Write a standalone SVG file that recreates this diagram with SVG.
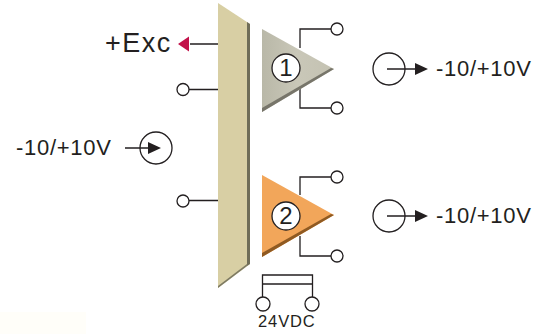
<svg xmlns="http://www.w3.org/2000/svg" width="547" height="334" viewBox="0 0 547 334">
<defs>
<style>
text{font-family:"Liberation Sans",Arial,sans-serif;fill:#231f20}
.w{fill:none;stroke:#231f20;stroke-width:1.3}
.t{fill:#fff;stroke:#231f20;stroke-width:1.3}
.l{font-size:22px;letter-spacing:0.7px}
.n{font-size:24px;text-anchor:middle}
.a{fill:#231f20}
</style>
<linearGradient id="g1" x1="0" y1="0" x2="1" y2="0"><stop offset="0" stop-color="#b9b8a8"/><stop offset="0.5" stop-color="#c9c7b8"/><stop offset="1" stop-color="#c4c2b2"/></linearGradient>
</defs>
<rect width="547" height="334" fill="#fff"/>
<rect x="0" y="312" width="86" height="22" fill="#fffef9"/>
<g id="connectors">
<path class="w" d="M190 44H218M189 89.500H218M189 200.500H218"/>
<path class="w" d="M300 48V29H331M300 88V108H331M300 195V177H331M300 236V256H331"/>
<path class="w" d="M262.500 298V275H312.500V298M262.500 284H312.500"/>
<path class="w" d="M125 148H150M387 69H417M387 216H417"/>
<path fill="#c2124a" d="M178 44L189 36.500V51.500Z"/>
<path class="a" d="M161 148L148 142V154ZM428 69L415 63V75ZM428 216L415 210V222Z"/>
</g>
<g id="bar">
<path fill="#d8cfa4" d="M218 3L250 24V264L218 288Z"/>
<path fill="#6f6d58" d="M247 22L250 24V264L247 266Z"/>
<path fill="#7d7a63" d="M218 286L247 264V266L218 288Z"/>
</g>
<g id="amp1">
<path fill="url(#g1)" d="M262 29L334 69L262 112Z"/>
<path fill="#77756a" d="M262 108L331 68L334 69L262 112Z"/>
<circle class="t" cx="286" cy="68" r="14"/>
<text class="n" x="286" y="76">1</text>
</g>
<g id="amp2">
<path fill="#f2a65a" d="M262 175L334 215L262 257Z"/>
<path fill="#8f5a22" d="M262 253L331 214L334 215L262 257Z"/>
<circle class="t" cx="286" cy="216" r="14"/>
<text class="n" x="286" y="224">2</text>
</g>
<g id="terminal-exc">
<text x="105" y="52" font-size="27" letter-spacing="1.500">+Exc</text>
</g>
<g id="terminal-left"><circle class="t" cx="183" cy="89.500" r="6"/></g>
<g id="terminal-left2"><circle class="t" cx="183" cy="201" r="6"/></g>
<g id="terminal-t1"><circle class="t" cx="337" cy="29" r="6"/></g>
<g id="terminal-t2"><circle class="t" cx="337" cy="108" r="6"/></g>
<g id="terminal-t3"><circle class="t" cx="337" cy="177" r="6"/></g>
<g id="terminal-t4"><circle class="t" cx="337" cy="256" r="6"/></g>
<g id="input"><circle class="w" cx="156" cy="148" r="16"/><text class="l" x="16" y="155">-10/+10V</text></g>
<g id="output1"><circle class="w" cx="389" cy="69" r="16"/><text class="l" x="436" y="76">-10/+10V</text></g>
<g id="output2"><circle class="w" cx="389" cy="216" r="16"/><text class="l" x="436" y="223">-10/+10V</text></g>
<g id="supply">
<circle class="t" cx="263" cy="304" r="7"/>
<circle class="t" cx="312" cy="304" r="7"/>
<text x="258" y="327" font-size="16.500" letter-spacing="0.900">24VDC</text>
</g>
</svg>
